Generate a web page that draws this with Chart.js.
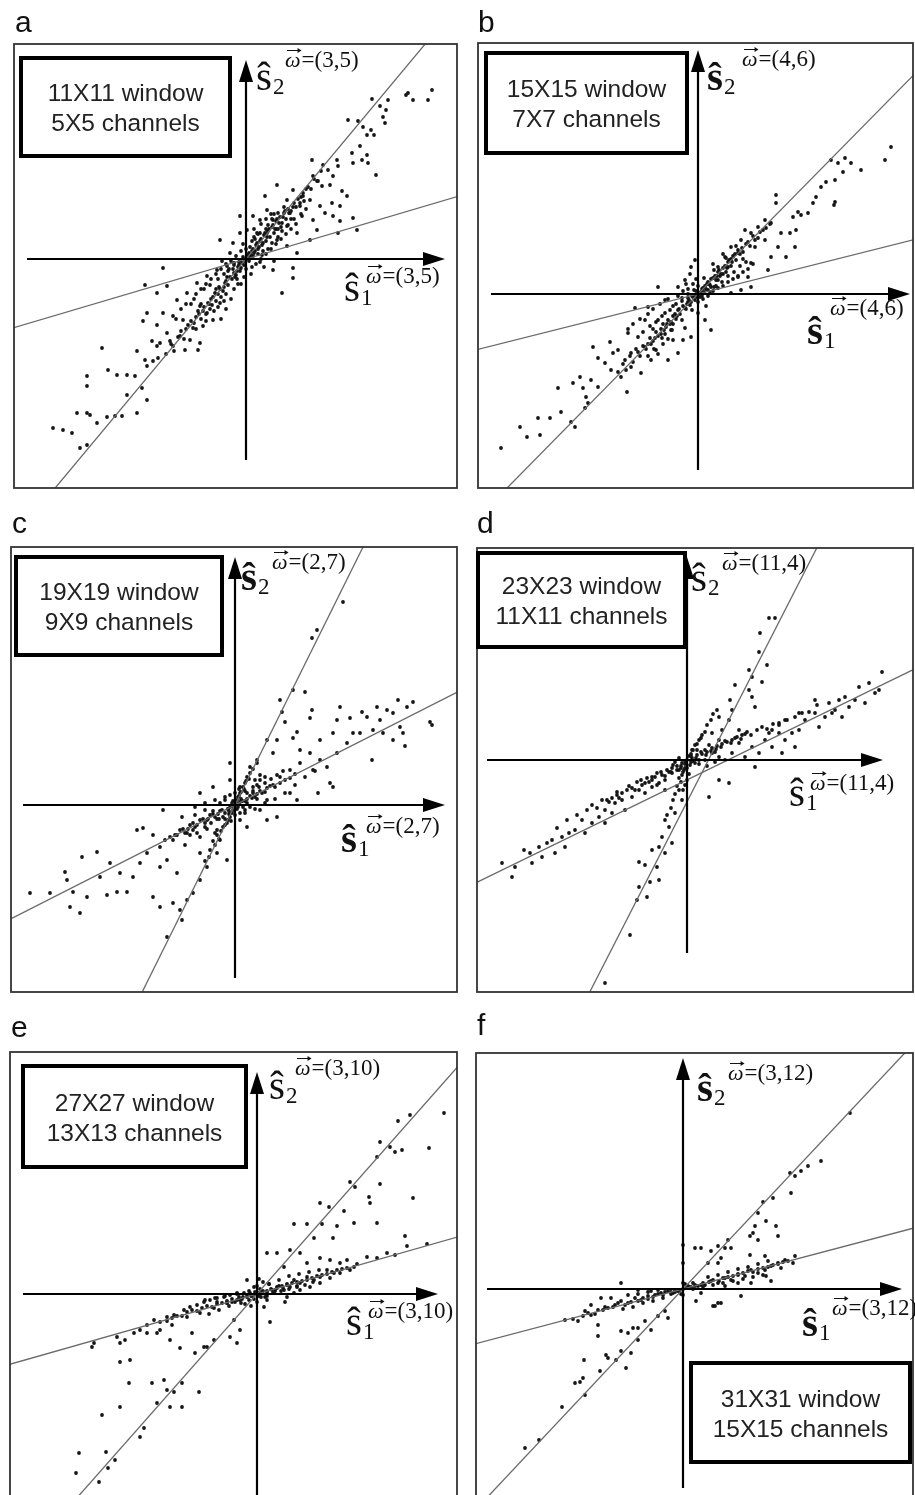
<!DOCTYPE html>
<html>
<head>
<meta charset="utf-8">
<script src="https://cdn.jsdelivr.net/npm/chart.js@4.4.0/dist/chart.umd.min.js"></script>
<style>
  html, body { margin: 0; padding: 0; background: #fff; overflow: hidden; width: 915px; height: 1495px; }
  canvas { position: absolute; }
</style>
</head>
<body>
<canvas id="pa"></canvas>
<canvas id="pb"></canvas>
<canvas id="pc"></canvas>
<canvas id="pd"></canvas>
<canvas id="pe"></canvas>
<canvas id="pf"></canvas>
<script>
// panel names and labels
const panelLetters = ['a', 'b', 'c', 'd', 'e', 'f'];
const windowLabels = ['11X11 window', '15X15 window', '19X19 window', '23X23 window', '27X27 window', '31X31 window'];
const channelLabels = ['5X5 channels', '7X7 channels', '9X9 channels', '11X11 channels', '13X13 channels', '15X15 channels'];
const omegaLabels = ['(3,5)', '(4,6)', '(2,7)', '(11,4)', '(3,10)', '(3,12)'];

// coefficient pairs (s1, s2), origin = axis crossing
const ptsA = [
  [126,160],[134,153],[142,159],[140,149],[137,142],[162,166],[167,159],[186,169],[182,159],[160,164],[102,139],[112,138],
  [117,132],[125,129],[128,124],[121,124],[139,136],[114,113],[106,106],[121,104],[116,99],[122,96],[130,84],[107,96],
  [66,99],[77,94],[82,89],[91,99],[92,93],[87,83],[67,83],[71,78],[76,73],[84,74],[96,68],[101,63],[94,53],[86,56],
  [74,53],[64,59],[57,63],[47,69],[31,74],[41,59],[54,53],[44,46],[56,43],[67,39],[79,46],[87,43],[94,38],[107,41],
  [111,29],[92,26],[71,29],[64,19],[51,26],[41,33],[27,39],[19,63],[21,49],[14,39],[7,43],[11,26],[21,26],[31,19],
  [41,13],[51,6],[47,-9],[36,-34],[47,-19],[27,-11],
  [-193,-169],[-183,-171],[-174,-174],[-166,-189],[-159,-186],[-159,-154],[-169,-154],[-156,-156],[-149,-164],[-139,-158],
  [-131,-157],[-124,-157],[-109,-154],[-99,-141],[-119,-136],[-159,-127],[-159,-117],[-138,-111],[-129,-116],[-119,-116],
  [-111,-117],[-104,-129],[-144,-89],[-109,-92],[-101,-101],[-93,-102],[-88,-99],[-99,-107],[-86,-84],[-94,-82],[-76,-82],
  [-66,-77],[-56,-81],[-48,-91],[-103,-62],[-89,-66],[-83,-54],[-73,-57],[-63,-61],[-53,-69],[-99,-54],[-83,-9],[-101,-26],
  [-89,-34],[-79,-27],[-69,-41],[-59,-34],[-46,-47],[-39,-54],[-43,-67],[-33,-61],[-26,-44],[-49,-24],[-39,-17],[-29,-11],
  [-19,-7],[-26,19],[-13,16],[-16,6],[-6,26],[1,29],[-6,43],[-79,-74],[-73,-87],[-89,-87],[-61,-91],[-46,-84]
];
const coreA = [
  [-60,-70],[-55,-62],[-50,-58],[-48,-52],[-45,-60],[-42,-48],[-40,-55],[-38,-44],[-36,-50],[-33,-38],[-30,-42],[-28,-35],
  [-26,-30],[-25,-38],[-22,-28],[-20,-22],[-18,-26],[-16,-18],[-14,-20],[-12,-14],[-10,-16],[-8,-8],[-6,-12],[-4,-4],
  [-2,-6],[0,0],[2,4],[4,2],[6,8],[8,6],[10,14],[12,10],[14,18],[16,14],[18,24],[20,18],[22,28],[24,22],[26,32],[28,26],
  [30,38],[32,30],[34,42],[36,36],[38,46],[40,40],[42,50],[45,48],[48,56],[50,52],[55,62],[58,58],[60,70],[-35,-20],
  [-30,-15],[-25,-10],[-20,-5],[-15,-2],[-10,3],[-5,8],[-24,-2],[-40,-25],[-45,-30],[-50,-35],[-55,-45],[-65,-50],
  [-70,-60],[10,-5],[15,0],[20,5],[25,10],[30,15],[35,20],[40,25],[45,30],[50,35],[18,-8],[28,-2],[5,-15],[-5,-25],
  [12,25],[8,30],[-3,15],[-15,-40],[-20,-50],[-25,-60],[20,40],[25,45],[-3,2],[3,-2],[-7,-3],[7,3],[-12,-6],[12,5],
  [-17,-10],[17,8],[0,-10],[0,10],[-9,-20],[9,20],[-30,-30],[30,30],[-35,-40],[35,32],[-45,-45],[45,40],[-20,-35],
  [20,30],[-8,-25],[15,35],[-28,-48],[28,45],
  [-80,-95],[-75,-85],[-72,-92],[-68,-78],[-65,-72],[-62,-80],[-58,-66],[-52,-64],[-47,-55],[-43,-52],[-37,-45],[-34,-46],
  [-31,-34],[-27,-28],[-23,-32],[-21,-24],[-19,-18],[-13,-10],[-11,-18],[-9,-12],[-7,-6],[-5,-9],[-1,-2],[1,3],[3,6],
  [5,4],[7,10],[9,8],[11,16],[13,12],[15,20],[17,16],[19,26],[21,22],[23,30],[27,34],[29,30],[31,40],[33,36],[37,42],
  [39,48],[43,46],[47,52],[52,60],[54,56],[57,66],[62,72],[65,70],[68,80],[72,78],[75,88],[-60,-45],[-52,-40],[-42,-30],
  [-36,-26],[-28,-20],[-22,-15],[-18,-12],[-12,-4],[-6,-1],[4,12],[6,18],[8,22],[14,26],[22,34],[26,40],[32,46],[38,52],
  [16,4],[22,10],[26,16],[32,22],[36,28],[42,34],[48,40],[55,45],[60,50],[-50,-70],[-40,-62],[-32,-52],[-22,-42],
  [-12,-30],[-2,-18],[6,-8],[14,-3]
];
const ptsB = [
  [193,147],[187,134],[147,136],[140,131],[153,131],[163,124],[133,134],[145,122],[137,114],[128,112],[123,107],[118,97],
  [137,92],[136,89],[115,91],[110,81],[100,82],[95,77],[78,99],[78,91],[103,79],[98,64],[92,61],[83,61],[80,47],[88,37],
  [97,47],[73,71],[67,74],[60,67],[53,61],[47,64],[43,54],[57,47],[67,54],[73,37],[70,24],[53,31],[40,41],[33,47],[27,37],
  [20,27],[30,27],[40,17],[50,17],[53,7],[33,1],[43,4],[20,14],[13,7],[7,-26],[13,-36],[0,-19],[-7,27],[-3,34],[-13,14],
  [-20,7],[-40,7],[-33,-6],
  [-197,-154],[-178,-133],[-171,-143],[-158,-141],[-160,-124],[-148,-124],[-140,-94],[-137,-118],[-127,-128],[-123,-133],
  [-125,-89],[-118,-83],[-115,-94],[-112,-103],[-110,-109],[-113,-114],[-107,-86],[-100,-93],[-71,-98],[-105,-53],[-100,-64],
  [-93,-69],[-88,-48],[-87,-76],[-80,-56],[-73,-66],[-67,-59],[-70,-39],[-60,-43],[-53,-53],[-47,-66],[-42,-56],[-30,-66],
  [-20,-59],[-25,-46],[-15,-46],[-7,-43],[-13,-34],[-40,-26],[-53,-26],[-63,-14],[-50,-13],[-33,-19],[-27,-36],[-67,-73],
  [-57,-79],[-77,-83],[-85,-59]
];
const coreB = [
  [-60,-58],[-55,-52],[-50,-50],[-48,-44],[-45,-47],[-42,-38],[-40,-42],[-37,-35],[-35,-30],[-32,-33],[-30,-26],[-28,-30],
  [-25,-22],[-22,-25],[-20,-16],[-18,-20],[-15,-12],[-12,-15],[-10,-8],[-8,-11],[-5,-3],[-3,-6],[0,0],[3,2],[5,6],[8,5],
  [10,12],[12,9],[15,16],[18,14],[20,22],[22,18],[25,26],[28,22],[30,32],[33,28],[35,38],[38,34],[40,44],[45,42],[48,50],
  [52,48],[55,58],[60,56],[65,64],[-70,-35],[-65,-30],[-58,-25],[-50,-20],[-45,-15],[-38,-10],[-30,-5],[-25,-12],[-20,-2],
  [-15,3],[-10,5],[-5,10],[-2,15],[5,-5],[10,-2],[15,3],[20,6],[25,8],[30,12],[35,15],[40,18],[45,22],[50,25],[55,30],
  [-8,20],[-12,10],[8,-12],[-35,-50],[-40,-60],[-30,-45],[25,40],[15,30],[-2,3],[2,-3],[-6,-2],[6,2],[-10,-4],[10,4],
  [-16,-7],[16,7],[0,-8],[0,8],[-25,-30],[25,20],[-33,-40],[33,35],[-45,-35],[45,35],
  [-80,-78],[-75,-70],[-72,-76],[-68,-62],[-65,-68],[-62,-55],[-58,-62],[-52,-55],[-47,-50],[-43,-44],[-37,-40],[-34,-36],
  [-31,-30],[-27,-28],[-23,-20],[-21,-22],[-19,-15],[-13,-14],[-11,-10],[-9,-6],[-7,-8],[-4,-2],[-1,-3],[1,1],[4,5],
  [7,8],[9,10],[11,10],[13,15],[17,18],[19,18],[21,24],[23,20],[27,28],[29,26],[31,34],[34,32],[37,40],[42,40],[44,46],
  [50,52],[57,54],[62,62],[68,66],[72,70],[-55,-38],[-48,-32],[-42,-28],[-36,-22],[-28,-16],[-22,-10],[-16,-4],[-10,0],
  [-4,4],[4,-2],[12,2],[18,8],[24,12],[30,18],[36,22],[42,28],[48,32],[-50,-62],[-44,-55],[-36,-44],[-26,-36],[-16,-26],
  [-6,-16],[6,16],[16,24],[28,36],[38,48]
];
const ptsC = [
  [108,203],[82,175],[77,167],[58,115],[70,113],[45,105],[47,93],[50,83],[77,95],[75,87],[58,67],[62,73],
  [163,105],[178,103],[172,98],[195,83],[197,80],[168,72],[158,65],[170,59],[138,75],[127,93],[132,88],[115,87],[125,72],
  [137,45],[112,62],[98,72],[85,65],[102,52],[92,38],[83,12],[95,22],[98,18],[78,35],[65,42],[55,12],[62,5],[42,65],
  [38,52],[32,65],[22,45],[15,38],[25,25],[45,28],[55,35],[65,55],[75,52],[85,45],[105,98],[145,85],[152,95],[158,92],
  [142,98],[102,85],[118,72],[148,72],[165,78],[-5,42],[-5,25],[5,18],[18,12],[32,5],[42,-12],[32,-15],[25,-5],[12,-22],
  [5,-15],
  [-205,-88],[-185,-88],[-170,-67],[-168,-75],[-162,-87],[-155,-108],[-148,-92],[-165,-102],[-153,-52],[-138,-47],
  [-135,-72],[-128,-90],[-118,-87],[-108,-87],[-125,-58],[-115,-68],[-102,-72],[-95,-58],[-98,-25],[-92,-23],[-82,-30],
  [-75,-42],[-88,-48],[-75,-62],[-68,-55],[-58,-68],[-82,-92],[-75,-102],[-62,-98],[-55,-105],[-53,-115],[-48,-95],
  [-42,-88],[-35,-75],[-68,-132],[-62,-35],[-48,-28],[-35,-48],[-28,-62],[-18,-48],[-8,-55],[-72,-5],[-53,-12],[-35,12],
  [-22,18],[-42,-25],[-28,-15],[-18,-25],[-15,-35]
];
const coreC = [
  [-60,-30],[-55,-25],[-50,-28],[-45,-20],[-40,-22],[-35,-15],[-30,-18],[-25,-10],[-20,-12],[-15,-6],[-10,-8],[-5,-2],
  [0,0],[5,3],[10,4],[15,9],[20,8],[25,14],[30,13],[35,19],[40,18],[-12,-22],[-8,-18],[-5,-12],[-3,-8],[3,8],[5,12],
  [8,18],[10,22],[12,28],[15,32],[-18,-30],[-20,-40],[-25,-45],[-10,5],[-5,10],[0,12],[0,-10],[5,-8],[10,-5],[15,-2],
  [-15,2],[20,25],[25,30],[30,28],[-30,-5],[-40,-10],[-20,-28],[8,-2],[12,2],[-2,4],[2,-4],[18,18],[22,20],[-35,-32],
  [-28,-24],[-16,-14],[-3,2],[3,-2],[-7,-4],[7,4],[0,-4],[0,4],[-10,-14],[10,14],[-4,-16],[4,16],[-22,-6],[22,6],
  [-70,-35],[-65,-32],[-58,-30],[-52,-24],[-47,-24],[-42,-18],[-38,-20],[-32,-14],[-27,-14],[-22,-9],[-17,-9],[-13,-5],
  [-7,-4],[-3,-1],[2,1],[7,4],[12,6],[17,7],[22,11],[27,12],[32,17],[38,20],[45,22],[50,25],[55,27],[60,31],[-10,-20],
  [-7,-15],[-6,-9],[-2,-5],[2,5],[4,9],[6,13],[9,16],[11,24],[14,26],[-14,-26],[-16,-34],[-22,-36],[-26,-52],[-30,-56],
  [18,36],[22,42],[-45,-30],[-50,-40],[-38,-28],[-30,-22],[-24,-18],[-18,-14],[-12,-12],[-6,-6],[6,6],[12,12],[18,14],
  [24,18],[30,22],[36,26],[42,30],[48,34],[-40,-2],[-30,2],[-20,5],[-10,8],[10,-8],[20,-4],[30,2],[40,6],[50,12],[60,20],
  [70,28],[80,34]
];
const ptsD = [
  [82,142],[88,142],[73,127],[72,108],[80,95],[62,90],[65,83],[75,78],[48,75],[62,70],[65,63],[43,60],[68,53],[45,50],
  [32,43],[42,40],[35,30],[25,27],[52,30],[32,20],[195,88],[192,70],
  [188,67],[182,77],[168,60],[178,57],[162,53],[152,60],[145,47],[155,43],[138,43],[128,47],[132,33],[118,40],[112,30],
  [105,27],[108,13],[98,20],[92,27],[95,7],[85,13],[78,20],[72,7],[65,13],[58,3],[68,-7],[52,17],[45,7],[38,0],[32,3],
  [25,7],[18,0],[42,-23],[32,-20],[22,-37],[172,73],[158,63],[142,57],[128,60],[112,47],[98,40],[85,30],[92,37],[82,27],
  [148,50],
  [-185,-103],[-175,-117],[-163,-90],[-157,-93],[-148,-87],[-140,-83],[-145,-97],[-135,-80],[-125,-77],[-132,-93],
  [-118,-73],[-112,-70],[-105,-60],[-102,-73],[-95,-63],[-88,-57],[-82,-50],[-75,-53],[-72,-43],[-65,-40],[-62,-50],
  [-55,-37],[-48,-30],[-42,-33],[-35,-27],[-28,-23],[-22,-20],[-15,-13],[-8,-10],[-35,-17],[-42,-23],[-22,-30],
  [-155,-103],[-172,-107],[-122,-87],[-82,-63],
  [-82,-223],[-57,-175],[-50,-140],[-48,-127],[-40,-137],[-37,-122],[-48,-102],[-42,-105],[-35,-90],[-30,-107],[-28,-87],
  [-25,-77],[-22,-93],[-18,-67],[-15,-83],[-22,-60],[-12,-53],[-5,-40],[-8,-30],[-28,-120]
];
const coreD = [
  [0,0],[5,2],[10,5],[-5,-3],[-10,-6],[15,6],[20,8],[25,12],[-15,-8],[-20,-10],[3,-5],[-3,-10],[-5,-15],[0,-20],[-2,-25],
  [5,10],[8,15],[12,20],[15,25],[18,10],[22,15],[28,8],[30,14],[35,16],[40,18],[45,20],[50,23],[55,25],[60,28],
  [-25,-15],[-30,-13],[-35,-20],[-40,-18],[-45,-25],[-50,-22],[-55,-28],[-60,-30],[-65,-33],[-70,-35],[-75,-38],
  [-80,-40],[8,-3],[12,0],[-8,2],[-12,-2],[0,-8],[2,-14],[-2,-4],[2,4],[6,-1],[-6,-8],[10,10],[-4,-30],[4,-2],
  [-100,-50],[-95,-45],[-90,-48],[-85,-40],[-78,-42],[-70,-32],[-68,-38],[-58,-26],[-52,-30],[-46,-20],[-38,-22],
  [-32,-17],[-26,-12],[-18,-12],[-14,-5],[-6,-6],[-2,-1],[4,4],[9,2],[14,8],[19,5],[24,9],[29,11],[34,13],[38,19],
  [44,17],[48,22],[54,21],[58,26],[64,25],[70,30],[75,33],[80,31],[86,36],[92,35],[100,40],[108,43],[115,47],[122,48],
  [130,55],[-110,-55],[-120,-60],[-130,-68],[-4,-12],[-8,-18],[-6,-22],[-10,-26],[-12,-34],[-14,-40],[-16,-48],
  [-20,-55],[-2,-8],[4,6],[6,10],[10,16],[14,22],[18,28],[20,35],[24,40],[26,46],[30,50],[-30,-25],[-22,-16],[-16,-12],
  [-10,-10],[12,-4],[20,-6],[28,-2]
];
const ptsE = [
  [187,181],[153,179],[141,173],[123,152],[133,147],[138,142],[145,144],[172,146],[120,137],[93,112],[98,107],[123,110],
  [112,97],[113,91],[156,96],[72,87],[63,91],[87,83],[97,71],[120,71],[37,70],[50,70],[65,70],[80,68],[57,56],[76,56],
  [148,58],[150,48],[170,50],[33,44],[43,41],[50,31],[63,36],[73,34],[10,41],[20,41],[27,27],
  [110,37],[120,36],[130,41],[138,39],[97,27],[90,34],[83,31],[77,21],[70,24],[63,17],[57,14],[50,17],[43,11],[37,14],
  [33,7],[27,4],[20,7],[17,1],[93,24],[83,21],[73,16],[63,11],[53,7],[43,4],[37,1],[30,-3],[28,-8],[13,-28],[7,-13],
  [10,-6],
  [-165,-53],[-163,-49],[-140,-43],[-132,-46],[-123,-39],[-117,-36],[-110,-31],[-103,-26],[-97,-28],[-90,-23],[-83,-21],
  [-73,-16],[-67,-13],[-60,-11],[-53,-8],[-47,-6],[-40,-4],[-33,-3],[-27,-1],[-20,1],[-13,1],[-7,1],[-137,-49],[-110,-39],
  [-97,-36],[-85,-31],[-70,-23],[-57,-19],[-43,-14],[-30,-9],[-17,-6],[-10,14],[-3,7],[-23,-26],[-17,-36],[-27,-43],
  [-20,-49],[-43,-46],[-50,-53],[-65,-39],[-77,-54],[-87,-46],[-100,-39],
  [-137,-68],[-127,-66],[-128,-89],[-105,-89],[-93,-86],[-90,-96],[-83,-98],[-75,-89],[-58,-98],[-137,-113],[-100,-109],
  [-87,-113],[-75,-113],[-155,-121],[-113,-134],[-117,-143],[-178,-159],[-151,-158],[-142,-166],[-181,-179],[-149,-174],
  [-158,-188],[-62,-59],[-53,-53]
];
const coreE = [
  [0,0],[-5,-2],[5,2],[-10,-3],[10,3],[-15,-5],[15,4],[-20,-6],[20,6],[3,5],[-3,-5],[8,-3],[-8,3],[0,8],[0,-8],[12,10],
  [-12,-10],[25,8],[-25,-8],[30,10],[-30,-9],[6,12],[2,15],[-6,-12],[-2,2],[2,-2],[-18,-3],[18,3],[40,8],[-40,-8],
  [-90,-27],[-85,-24],[-80,-22],[-75,-22],[-70,-18],[-65,-16],[-60,-17],[-55,-14],[-50,-12],[-45,-13],[-40,-10],[-35,-9],
  [-30,-7],[-25,-5],[-22,-8],[-18,-5],[-14,-3],[-10,-1],[-6,-2],[-2,0],[2,1],[6,3],[10,2],[14,5],[18,4],[22,8],[26,6],
  [30,9],[35,11],[40,12],[45,13],[50,14],[55,16],[60,18],[65,19],[70,20],[75,22],[80,24],[85,25],[90,26],[100,30],
  [-48,-20],[-38,-16],[-28,-12],[-16,-9],[-8,-6],[4,-3],[10,-2],[16,1],[24,3],[32,5],[40,7],[48,9],[56,12],[-52,-6],
  [-42,-4],[-32,-2],[-20,0],[12,10],[22,14],[32,18],[42,20],[52,22],[62,24]
];
const ptsF = [
  [167,176],[138,128],[107,116],[112,113],[118,118],[125,123],[108,96],[90,91],[80,87],[75,76],[72,63],[70,56],[83,68],
  [93,63],[67,53],[75,49],[95,53],[45,49],[48,41],[42,41],[35,43],[28,38],[18,41],[12,41],[25,26],[35,26],[38,31],
  [67,34],[82,33],[0,44],[0,26],
  [112,33],[110,26],[102,29],[95,26],[88,23],[82,19],[75,16],[68,19],[62,13],[55,14],[48,9],[42,11],[35,6],[28,8],
  [22,4],[15,3],[8,1],[88,8],[83,13],[98,21],[58,-7],[38,-14],[32,-17],[13,-12],[18,-4],[68,6],[55,6],[42,3],
  [-118,-31],[-105,-32],[-98,-22],[-92,-26],[-85,-21],[-82,-9],[-75,-19],[-68,-16],[-62,-12],[-55,-14],[-48,-9],
  [-42,-11],[-35,-7],[-28,-6],[-22,-4],[-15,-2],[-8,-1],[-62,6],[-45,-1],[-32,-2],[-92,-16],[-72,-9],
  [-158,-159],[-144,-151],[-121,-118],[-108,-94],[-103,-93],[-100,-89],[-98,-106],[-99,-71],[-83,-82],[-77,-66],
  [-75,-69],[-67,-71],[-57,-79],[-62,-62],[-52,-64],[-45,-51],[-55,-44],[-62,-42],[-50,-39],[-45,-39],[-85,-47],
  [-85,-36],[-32,-41],[-38,-32],[-25,-27],[-18,-22],[-15,-29],[35,-14],[30,-17]
];
const coreF = [
  [0,0],[3,1],[-3,-1],[5,3],[-5,-2],[8,2],[-8,-3],[2,5],[-2,-5],[10,6],[-10,-4],[0,-6],[0,6],[12,3],[-12,-5],
  [-110,-30],[-100,-27],[-95,-24],[-88,-25],[-80,-21],[-78,-18],[-70,-18],[-65,-14],[-58,-16],[-52,-13],[-45,-12],
  [-40,-9],[-35,-10],[-30,-8],[-25,-5],[-20,-6],[-18,-3],[-12,-3],[-6,-1],[-4,-2],[4,1],[6,2],[12,4],[18,4],[20,6],
  [26,7],[30,9],[36,8],[40,11],[45,12],[50,13],[55,15],[60,16],[65,18],[70,17],[75,20],[80,21],[85,22],[90,24],[95,25],
  [100,27],[105,28],[-60,-20],[-50,-18],[-40,-14],[-30,-12],[-20,-9],[10,0],[20,2],[30,4],[40,6],[50,8],[60,10],[70,12],
  [80,14],[-55,-6],[-45,-5],[-35,-3],[-25,-1],[25,12],[35,14],[45,17],[55,20],[65,22],[75,25],[85,28]
];

// fitted directions (two lines per panel), same units as the points
const steepA = [[-240,-288],[240,288]], shallowA = [[-240,-71],[240,71]];
const steepB = [[-250,-254],[250,254]], shallowB = [[-250,-63],[250,63]];
const steepC = [[-130,-262],[130,262]], shallowC = [[-250,-127],[250,127]];
const steepD = [[-110,-257],[140,232]], shallowD = [[-230,-132],[240,97]];
const steepE = [[-250,-283],[250,283]], shallowE = [[-260,-74],[260,74]];
const steepF = [[-250,-266],[250,266]], shallowF = [[-250,-66],[250,66]];

// page layout of each panel (pixels)
const layouts = [
  { box: [14, 44, 457, 488], o: [246, 259], hx: [-219, 199], vy: [-201, 199], tb: [21, 58, 230, 156], letter: [15, 32],
    s2: [256, 90, false], w2: [285, 67], s1: [344, 301, false], w1: [366, 283] },
  { box: [478, 43, 913, 488], o: [698, 294], hx: [-207, 212], vy: [-176, 244], tb: [486, 53, 687, 153], letter: [478, 32],
    s2: [707, 90, true], w2: [742, 66], s1: [807, 344, true], w1: [830, 315] },
  { box: [11, 547, 457, 992], o: [235, 805], hx: [-212, 210], vy: [-173, 248], tb: [16, 557, 222, 655], letter: [12, 533],
    s2: [241, 590, true], w2: [272, 569], s1: [341, 852, true], w1: [366, 833] },
  { box: [477, 548, 913, 992], o: [687, 760], hx: [-200, 196], vy: [-193, 203], tb: [478, 553, 685, 647], letter: [477, 533],
    s2: [691, 591, false], w2: [722, 570], s1: [789, 806, false], w1: [810, 790] },
  { box: [10, 1052, 457, 1497], o: [257, 1294], hx: [-234, 181], vy: [-220, 222], tb: [23, 1066, 246, 1167], letter: [11, 1037],
    s2: [269, 1099, false], w2: [295, 1075], s1: [346, 1335, false], w1: [368, 1318] },
  { box: [476, 1053, 913, 1498], o: [683, 1289], hx: [-196, 219], vy: [-199, 231], tb: [691, 1363, 910, 1462], letter: [477, 1035],
    s2: [697, 1101, true], w2: [728, 1080], s1: [802, 1336, true], w1: [832, 1315] }
];

const SANS = '"Liberation Sans", Arial, sans-serif';
const SERIF = '"Liberation Serif", "Times New Roman", serif';

function drawArrowHead(ctx, x, y, dx, dy) {
  // dx,dy = unit direction of the arrow
  const len = 22, half = 7;
  ctx.beginPath();
  ctx.moveTo(x, y);
  ctx.lineTo(x - dx * len - dy * half, y - dy * len + dx * half);
  ctx.lineTo(x - dx * len + dy * half, y - dy * len - dx * half);
  ctx.closePath();
  ctx.fill();
}

function drawHat(ctx, x, y, sub, bold) {
  ctx.font = (bold ? 'bold ' : '') + '41px ' + SERIF;
  ctx.fillText('ŝ', x, y);
  const w = ctx.measureText('ŝ').width;
  ctx.font = '23px ' + SERIF;
  ctx.fillText(sub, x + w + 1, y + 4);
}

function drawOmega(ctx, x, y, txt) {
  ctx.font = 'italic 22px ' + SERIF;
  ctx.fillText('ω', x, y);
  const w = ctx.measureText('ω').width;
  ctx.lineWidth = 1;
  ctx.beginPath();
  ctx.moveTo(x + 2, y - 16.5);
  ctx.lineTo(x + w - 1, y - 16.5);
  ctx.stroke();
  ctx.beginPath();
  ctx.moveTo(x + w + 1, y - 16.5);
  ctx.lineTo(x + w - 3, y - 19);
  ctx.lineTo(x + w - 3, y - 14);
  ctx.closePath();
  ctx.fill();
  ctx.font = '23px ' + SERIF;
  ctx.fillText('=' + txt, x + w + 1, y);
}

function panelChart(id, i, pts, steep, shallow) {
  const L = layouts[i];
  const [bl, bt, br, bb] = L.box;
  const PAD = 12, TOP = 46;
  const cv = document.getElementById(id);
  const left = bl - PAD, top = bt - TOP;
  cv.style.left = left + 'px';
  cv.style.top = top + 'px';
  cv.width = br - bl + 2 * PAD;
  cv.height = bb - bt + TOP + PAD;

  const deco = {
    id: 'deco' + i,
    afterDatasetsDraw(chart) {
      const ctx = chart.ctx, xs = chart.scales.x, ys = chart.scales.y, ca = chart.chartArea;
      ctx.save();
      ctx.fillStyle = '#000';
      ctx.strokeStyle = '#000';

      // axes with arrows
      const ox = xs.getPixelForValue(0), oy = ys.getPixelForValue(0);
      const hx0 = xs.getPixelForValue(L.hx[0]), hx1 = xs.getPixelForValue(L.hx[1]);
      const vy0 = ys.getPixelForValue(L.vy[0]), vy1 = ys.getPixelForValue(L.vy[1]);
      ctx.lineWidth = 2.2;
      ctx.beginPath();
      ctx.moveTo(hx0, oy); ctx.lineTo(hx1 - 18, oy);
      ctx.moveTo(ox, vy0); ctx.lineTo(ox, vy1 + 18);
      ctx.stroke();
      drawArrowHead(ctx, hx1, oy, 1, 0);
      drawArrowHead(ctx, ox, vy1, 0, -1);

      // panel frame
      ctx.strokeStyle = '#333';
      ctx.lineWidth = 1.8;
      ctx.strokeRect(ca.left, ca.top, ca.right - ca.left, ca.bottom - ca.top);

      // page coordinates from here
      ctx.translate(-left, -top);

      // legend box
      const [tl, tt, tr, tbm] = L.tb;
      ctx.fillStyle = '#fff';
      ctx.fillRect(tl, tt, tr - tl, tbm - tt);
      ctx.strokeStyle = '#000';
      ctx.lineWidth = 4;
      ctx.strokeRect(tl, tt, tr - tl, tbm - tt);
      ctx.fillStyle = '#222';
      ctx.font = '24.5px ' + SANS;
      ctx.textAlign = 'center';
      ctx.textBaseline = 'alphabetic';
      const cx = (tl + tr) / 2, cy = (tt + tbm) / 2;
      ctx.fillText(windowLabels[i], cx, cy - 6);
      ctx.fillText(channelLabels[i], cx, cy + 24);

      // axis labels
      ctx.textAlign = 'left';
      ctx.fillStyle = '#111';
      ctx.strokeStyle = '#111';
      drawHat(ctx, L.s2[0], L.s2[1], '2', L.s2[2]);
      drawOmega(ctx, L.w2[0], L.w2[1], omegaLabels[i]);
      drawHat(ctx, L.s1[0], L.s1[1], '1', L.s1[2]);
      drawOmega(ctx, L.w1[0], L.w1[1], omegaLabels[i]);

      // panel letter
      ctx.fillStyle = '#111';
      ctx.font = '30px ' + SANS;
      ctx.fillText(panelLetters[i], L.letter[0], L.letter[1]);
      ctx.restore();
    }
  };

  const toXY = arr => arr.map(p => ({ x: p[0], y: p[1] }));

  return new Chart(cv, {
    type: 'scatter',
    data: {
      datasets: [
        { data: toXY(pts), pointRadius: 1.9, pointBackgroundColor: '#151515', pointBorderWidth: 0, order: 2 },
        { data: toXY(steep), showLine: true, borderColor: '#6a6a6a', borderWidth: 1.3, pointRadius: 0, order: 1 },
        { data: toXY(shallow), showLine: true, borderColor: '#6a6a6a', borderWidth: 1.3, pointRadius: 0, order: 1 }
      ]
    },
    options: {
      responsive: false,
      animation: false,
      events: [],
      layout: { padding: { left: PAD, right: PAD, top: TOP, bottom: PAD } },
      scales: {
        x: { type: 'linear', display: false, min: bl - L.o[0], max: br - L.o[0] },
        y: { type: 'linear', display: false, min: L.o[1] - bb, max: L.o[1] - bt }
      },
      plugins: { legend: { display: false }, tooltip: { enabled: false } }
    },
    plugins: [deco]
  });
}

panelChart('pa', 0, ptsA.concat(coreA), steepA, shallowA);
panelChart('pb', 1, ptsB.concat(coreB), steepB, shallowB);
panelChart('pc', 2, ptsC.concat(coreC), steepC, shallowC);
panelChart('pd', 3, ptsD.concat(coreD), steepD, shallowD);
panelChart('pe', 4, ptsE.concat(coreE), steepE, shallowE);
panelChart('pf', 5, ptsF.concat(coreF), steepF, shallowF);
</script>
</body>
</html>
